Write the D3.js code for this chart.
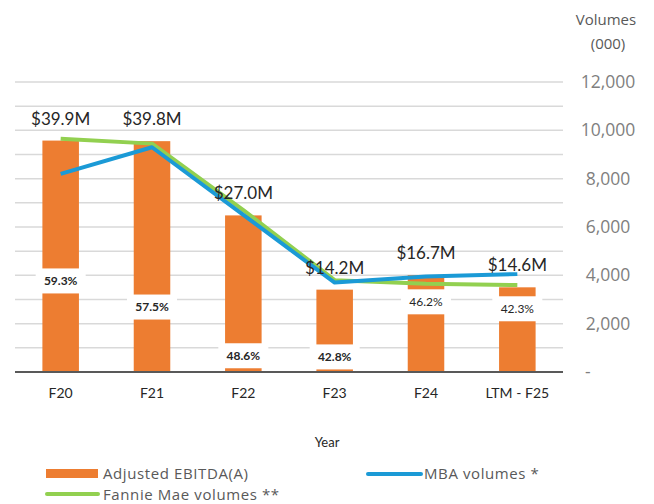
<!DOCTYPE html>
<html lang="en">
<head>
  <meta charset="UTF-8">
  <title>Adjusted EBITDA and volumes</title>
  <script src="https://d3js.org/d3.v7.min.js"></script>
  <style>
    body { margin: 0; background: #fff; }
    .grid line { stroke: #d9d9d9; stroke-width: 1.5; }
    .tick-label { font-family: "Open Sans", sans-serif; font-size: 17.5px; fill: #7f7f7f; }
    .cat-label { font-family: Lato, sans-serif; font-size: 14px; fill: #262626; }
    .value-label { font-family: Lato, sans-serif; font-size: 17px; fill: #262626; }
    .margin-label { font-family: Lato, sans-serif; font-size: 12px; fill: #262626; }
    .legend-text { font-family: "Open Sans", sans-serif; font-size: 15px; letter-spacing: 0.6px; fill: #595959; }
  </style>
</head>
<body>
<script>
// data
var categories = ['F20', 'F21', 'F22', 'F23', 'F24', 'LTM - F25'];
var ebitda = [39.9, 39.8, 27.0, 14.2, 16.7, 14.6];           // $M
var margins = [59.3, 57.5, 48.6, 42.8, 46.2, 42.3];           // %
var marginBold = [true, true, true, true, false, false];
var marginLabelAt = [15.7, 11.2, 2.8, 2.6, 12.1, 10.9];      // where the margin box sits, in $M
var mbaVolumes = [8200, 9300, 6500, 3700, 3950, 4050];
var fannieVolumes = [9650, 9450, 6700, 3800, 3650, 3600];
var volumeTicks = [0, 2000, 4000, 6000, 8000, 10000, 12000];

var W = 654, H = 504;
var plot = {left: 15, right: 563, top: 82, bottom: 372};

var svg = d3.select('body').append('svg')
  .attr('width', W).attr('height', H);

var x = d3.scaleBand()
  .domain(categories)
  .range([plot.left, plot.right])
  .paddingInner(0.6)
  .paddingOuter(0.3);

var yVol = d3.scaleLinear().domain([0, 12000]).range([plot.bottom, plot.top]);
var yM = d3.scaleLinear().domain([0, 50]).range([plot.bottom, plot.top]);   // hidden axis for the bars

// gridlines every 1,000
svg.append('g').attr('class', 'grid')
  .selectAll('line')
  .data(d3.range(1000, 12001, 1000))
  .enter().append('line')
  .attr('x1', plot.left).attr('x2', plot.right)
  .attr('y1', function(d) { return yVol(d); })
  .attr('y2', function(d) { return yVol(d); });

// right axis labels
svg.append('g')
  .selectAll('text')
  .data(volumeTicks)
  .enter().append('text')
  .attr('class', 'tick-label')
  .attr('x', function(d) { return d === 0 ? 585 : 608; })
  .attr('y', function(d) { return yVol(d); })
  .attr('dy', '0.35em')
  .attr('text-anchor', function(d) { return d === 0 ? 'start' : 'middle'; })
  .text(function(d) { return d === 0 ? '-' : d3.format(',')(d); });

svg.append('text')
  .attr('x', 606).attr('y', 25).attr('text-anchor', 'middle')
  .style('font-family', '"Open Sans", sans-serif').style('font-size', '15px').style('fill', '#595959')
  .text('Volumes');
svg.append('text')
  .attr('x', 608).attr('y', 49).attr('text-anchor', 'middle')
  .style('font-family', '"Open Sans", sans-serif').style('font-size', '15px').style('fill', '#595959')
  .text('(000)');

// bars
svg.append('g')
  .selectAll('rect')
  .data(ebitda)
  .enter().append('rect')
  .attr('x', function(d, i) { return x(categories[i]); })
  .attr('width', x.bandwidth())
  .attr('y', function(d) { return yM(d); })
  .attr('height', function(d) { return yM(0) - yM(d); })
  .attr('fill', '#ed7d31');

// axis line
svg.append('line')
  .attr('x1', plot.left).attr('x2', plot.right)
  .attr('y1', plot.bottom).attr('y2', plot.bottom)
  .attr('stroke', '#595959').attr('stroke-width', 2);

// margin labels in white boxes
var mg = svg.append('g')
  .selectAll('g')
  .data(margins)
  .enter().append('g')
  .attr('transform', function(d, i) {
    return 'translate(' + (x(categories[i]) + x.bandwidth() / 2) + ',' + yM(marginLabelAt[i]) + ')';
  });
mg.append('rect')
  .attr('x', -25).attr('y', -12.5).attr('width', 50).attr('height', 25)
  .attr('fill', '#fff');
mg.append('text')
  .attr('class', 'margin-label')
  .attr('text-anchor', 'middle')
  .attr('dy', '0.35em')
  .style('font-weight', function(d, i) { return marginBold[i] ? 'bold' : 'normal'; })
  .text(function(d) { return d.toFixed(1) + '%'; });

// lines
var line = d3.line()
  .x(function(d, i) { return x(categories[i]) + x.bandwidth() / 2; })
  .y(function(d) { return yVol(d); });

svg.append('path')
  .datum(fannieVolumes)
  .attr('d', line)
  .attr('fill', 'none')
  .attr('stroke', '#92d050')
  .attr('stroke-width', 4)
  .attr('stroke-linejoin', 'round');

svg.append('path')
  .datum(mbaVolumes)
  .attr('d', line)
  .attr('fill', 'none')
  .attr('stroke', '#1b9ad6')
  .attr('stroke-width', 4)
  .attr('stroke-linejoin', 'round');

// EBITDA labels above bars
svg.append('g')
  .selectAll('text')
  .data(ebitda)
  .enter().append('text')
  .attr('class', 'value-label')
  .attr('x', function(d, i) { return x(categories[i]) + x.bandwidth() / 2; })
  .attr('y', function(d) { return yM(d) - 16; })
  .attr('text-anchor', 'middle')
  .text(function(d) { return '$' + d.toFixed(1) + 'M'; });

// category labels
svg.append('g')
  .selectAll('text')
  .data(categories)
  .enter().append('text')
  .attr('class', 'cat-label')
  .attr('x', function(d) { return x(d) + x.bandwidth() / 2; })
  .attr('y', 398)
  .attr('text-anchor', 'middle')
  .text(function(d) { return d; });

svg.append('text')
  .attr('class', 'cat-label')
  .attr('x', 327).attr('y', 447)
  .attr('text-anchor', 'middle')
  .style('font-size', '13px')
  .text('Year');

// legend
svg.append('rect').attr('x', 46).attr('y', 469).attr('width', 52).attr('height', 9).attr('fill', '#ed7d31');
svg.append('text').attr('class', 'legend-text').attr('x', 103).attr('y', 479).text('Adjusted EBITDA(A)');

svg.append('line').attr('x1', 368).attr('x2', 421).attr('y1', 474).attr('y2', 474)
  .attr('stroke', '#1b9ad6').attr('stroke-width', 4).attr('stroke-linecap', 'round');
svg.append('text').attr('class', 'legend-text').attr('x', 424).attr('y', 479).text('MBA volumes *');

svg.append('line').attr('x1', 47).attr('x2', 98).attr('y1', 494).attr('y2', 494)
  .attr('stroke', '#92d050').attr('stroke-width', 4).attr('stroke-linecap', 'round');
svg.append('text').attr('class', 'legend-text').attr('x', 103).attr('y', 499.5).text('Fannie Mae volumes **');
</script>
</body>
</html>
